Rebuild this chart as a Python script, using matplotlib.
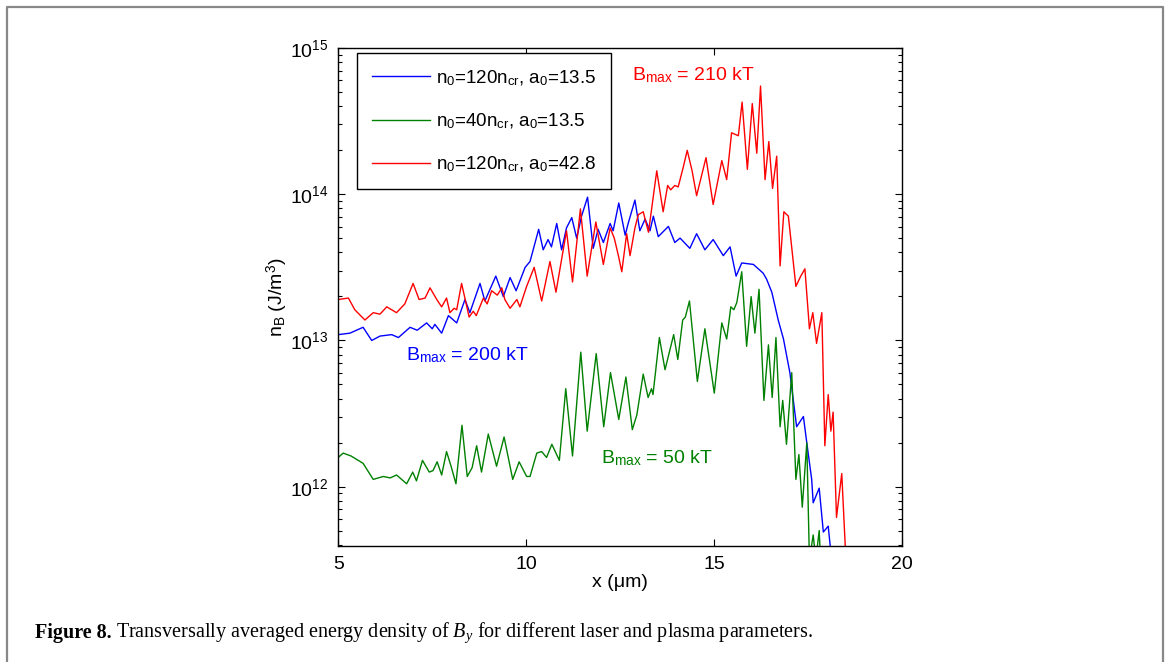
import numpy as np
import matplotlib
matplotlib.use('Agg')
import matplotlib.pyplot as plt
from matplotlib.lines import Line2D

plt.rcParams['font.family'] = ['Liberation Sans', 'DejaVu Sans']
plt.rcParams['mathtext.fontset'] = 'custom'
plt.rcParams['mathtext.rm'] = 'Liberation Sans'
plt.rcParams['mathtext.it'] = 'Liberation Serif:italic'
plt.rcParams['mathtext.bf'] = 'Liberation Sans:bold'

# Datos (x en um, log10 de n_B en J/m^3)
blue_x = [5.00, 5.31, 5.66, 5.89, 6.11, 6.42, 6.60, 6.91, 7.10, 7.35, 7.50, 7.57, 7.75, 7.93,
          8.15, 8.37, 8.50, 8.77, 8.90, 9.19, 9.39, 9.57, 9.73, 9.97, 10.10, 10.33, 10.45,
          10.58, 10.67, 10.81, 10.94, 11.07, 11.21, 11.34, 11.47, 11.63, 11.78, 11.91, 12.05,
          12.23, 12.31, 12.46, 12.63, 12.71, 12.89, 13.02, 13.16, 13.29, 13.38, 13.51, 13.78,
          13.95, 14.09, 14.35, 14.53, 14.75, 14.97, 15.24, 15.42, 15.58, 15.73, 16.04, 16.30,
          16.39, 16.53, 16.70, 16.84, 17.01, 17.19, 17.37, 17.46, 17.59, 17.63, 17.79, 17.90,
          18.03, 18.12, 18.20]
blue_log = [13.04, 13.05, 13.09, 13.00, 13.03, 13.04, 13.02, 13.09, 13.07, 13.12, 13.08, 13.11,
            13.05, 13.17, 13.12, 13.28, 13.19, 13.39, 13.27, 13.44, 13.30, 13.43, 13.34, 13.50,
            13.54, 13.76, 13.62, 13.69, 13.64, 13.80, 13.62, 13.77, 13.84, 13.70, 13.85, 13.98,
            13.63, 13.76, 13.67, 13.80, 13.75, 13.94, 13.72, 13.80, 13.96, 13.75, 13.83, 13.75,
            13.85, 13.71, 13.78, 13.67, 13.70, 13.63, 13.73, 13.62, 13.69, 13.58, 13.64, 13.44,
            13.53, 13.52, 13.46, 13.42, 13.33, 13.14, 13.01, 12.78, 12.41, 12.48, 12.30, 12.05,
            11.89, 11.99, 11.69, 11.73, 11.50, 11.00]

green_x = [5.00, 5.13, 5.34, 5.66, 5.93, 6.20, 6.38, 6.55, 6.82, 6.98, 7.08, 7.24, 7.42, 7.52,
           7.63, 7.75, 7.88, 8.00, 8.13, 8.29, 8.43, 8.56, 8.68, 8.81, 8.99, 9.21, 9.41, 9.64,
           9.81, 10.01, 10.10, 10.28, 10.41, 10.54, 10.68, 10.88, 11.05, 11.23, 11.45, 11.62,
           11.86, 12.06, 12.24, 12.46, 12.65, 12.82, 12.94, 13.11, 13.24, 13.33, 13.37, 13.54,
           13.69, 13.92, 14.03, 14.16, 14.23, 14.34, 14.55, 14.75, 15.00, 15.20, 15.33, 15.44,
           15.52, 15.60, 15.73, 15.86, 15.98, 16.08, 16.19, 16.32, 16.44, 16.54, 16.64, 16.75,
           16.82, 16.92, 17.06, 17.17, 17.25, 17.34, 17.46, 17.53, 17.63, 17.70, 17.79, 17.86]
green_log = [12.20, 12.23, 12.21, 12.16, 12.05, 12.07, 12.06, 12.08, 12.02, 12.10, 12.04, 12.18,
             12.10, 12.11, 12.17, 12.08, 12.24, 12.14, 12.02, 12.42, 12.07, 12.13, 12.28, 12.10,
             12.36, 12.14, 12.34, 12.05, 12.17, 12.07, 12.07, 12.23, 12.24, 12.20, 12.29, 12.18,
             12.67, 12.21, 12.92, 12.38, 12.91, 12.41, 12.78, 12.46, 12.75, 12.39, 12.49, 12.77,
             12.61, 12.67, 12.63, 13.02, 12.80, 13.04, 12.87, 13.14, 13.16, 13.27, 12.72, 13.08,
             12.64, 13.12, 13.01, 13.23, 13.21, 13.26, 13.47, 12.96, 13.30, 13.05, 13.35, 12.59,
             12.97, 12.61, 13.02, 12.41, 12.59, 12.29, 12.78, 12.05, 12.22, 11.86, 12.30, 11.50,
             11.67, 11.50, 11.70, 11.30]

red_x = [5.00, 5.27, 5.44, 5.71, 5.93, 6.11, 6.29, 6.55, 6.77, 6.99, 7.15, 7.31, 7.44, 7.62,
         7.75, 7.88, 7.97, 8.08, 8.15, 8.28, 8.42, 8.48, 8.59, 8.67, 8.86, 8.96, 9.08, 9.23,
         9.35, 9.43, 9.57, 9.75, 9.83, 10.01, 10.21, 10.41, 10.63, 10.79, 11.07, 11.23, 11.44,
         11.62, 11.85, 12.05, 12.23, 12.34, 12.45, 12.54, 12.67, 12.76, 12.89, 12.98, 13.11,
         13.25, 13.47, 13.64, 13.76, 13.84, 13.95, 14.04, 14.18, 14.28, 14.41, 14.53, 14.78,
         14.97, 15.20, 15.33, 15.46, 15.55, 15.64, 15.74, 15.88, 16.01, 16.13, 16.23, 16.35,
         16.45, 16.55, 16.66, 16.75, 16.85, 16.97, 17.17, 17.30, 17.41, 17.53, 17.62, 17.72,
         17.86, 17.94, 18.03, 18.10, 18.16, 18.25, 18.39, 18.50, 18.60]
red_log = [13.28, 13.29, 13.21, 13.14, 13.19, 13.18, 13.23, 13.19, 13.25, 13.39, 13.28, 13.29,
           13.36, 13.28, 13.23, 13.29, 13.19, 13.22, 13.21, 13.39, 13.23, 13.16, 13.20, 13.17,
           13.29, 13.25, 13.34, 13.31, 13.36, 13.28, 13.22, 13.28, 13.23, 13.37, 13.50, 13.27,
           13.54, 13.33, 13.75, 13.40, 13.90, 13.44, 13.81, 13.52, 13.77, 13.70, 13.58, 13.47,
           13.73, 13.58, 13.77, 13.86, 13.88, 13.74, 14.16, 13.88, 14.06, 14.03, 14.06, 14.05,
           14.19, 14.30, 14.16, 13.99, 14.25, 13.93, 14.23, 14.10, 14.42, 14.41, 14.40, 14.63,
           14.17, 14.62, 14.28, 14.74, 14.10, 14.36, 14.04, 14.26, 13.51, 13.88, 13.85, 13.37,
           13.44, 13.49, 13.08, 13.19, 12.98, 13.19, 12.28, 12.63, 12.38, 12.51, 11.79, 12.09,
           11.50, 11.00]

labels = [r'n$_0$=120n$_{\rm cr}$, a$_0$=13.5',
          r'n$_0$=40n$_{\rm cr}$, a$_0$=13.5',
          r'n$_0$=120n$_{\rm cr}$, a$_0$=42.8']
colors = ['#0000ff', '#008000', '#ff0000']

fig = plt.figure(figsize=(11.7, 6.62), dpi=100)
ax = fig.add_axes([0.2891, 0.1752, 0.4821, 0.7523])

for xs, ls, lab, c in zip([blue_x, green_x, red_x], [blue_log, green_log, red_log], labels, colors):
    ax.plot(xs, 10 ** np.array(ls), color=c, lw=1.0, label=lab)

ax.set_yscale('log')
ax.set_xlim(5, 20)
ax.set_ylim(3.93e11, 1e15)
ax.set_xticks([5, 10, 15, 20])
ax.tick_params(which='both', direction='in', top=True, right=True, labelsize=14, width=0.8)
ax.tick_params(which='major', length=5, pad=7)
ax.tick_params(which='minor', length=3)
for s in ax.spines.values():
    s.set_linewidth(1.0)

ax.set_xlabel('x (\u03bcm)', fontsize=14, labelpad=1)
ax.set_ylabel(r'n$_{\rm B}$ (J/m$^3$)', fontsize=14, labelpad=0)

ax.text(12.80, 6.0e14, r'B$_{\rm max}$ = 210 kT', color='#ff0000', fontsize=14)
ax.text(6.80, 7.3e12, r'B$_{\rm max}$ = 200 kT', color='#0000ff', fontsize=14)
ax.text(11.98, 1.44e12, r'B$_{\rm max}$ = 50 kT', color='#008000', fontsize=14)

leg = ax.legend(loc='upper left', bbox_to_anchor=(0.0326, 0.9894), borderaxespad=0,
                fontsize=13.5, handlelength=3.1, handletextpad=0.35, labelspacing=1.27,
                borderpad=0.8, fancybox=False, framealpha=1)
leg.get_frame().set_edgecolor('black')
leg.get_frame().set_linewidth(1.0)

# marco gris de la figura
fig.add_artist(Line2D([7 / 1170, 7 / 1170, 1163 / 1170, 1163 / 1170],
                      [0, 1 - 7 / 662, 1 - 7 / 662, 0], color='#888888', lw=1.6,
                      transform=fig.transFigure))

# pie de figura
cap_y = 1 - 633 / 662
t1 = fig.text(35 / 1170, cap_y, 'Figure 8.', family='Liberation Serif', weight='bold',
              fontsize=14.5, va='center')
fig.canvas.draw()
bb = t1.get_window_extent()
fig.text(bb.x1 / fig.bbox.width + 4 / 1170, cap_y,
         r'Transversally averaged energy density of $B_y$ for different laser and plasma parameters.',
         family='Liberation Serif', fontsize=14.5, va='center')

fig.savefig('out.png', dpi=100)
plt.close()
